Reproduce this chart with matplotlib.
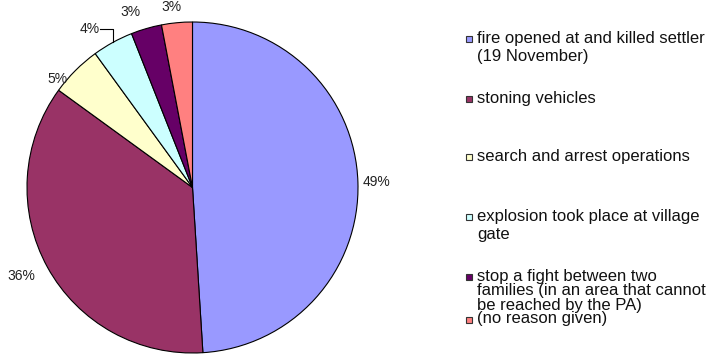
import numpy as np
import matplotlib
matplotlib.use('Agg')
import matplotlib.pyplot as plt
from matplotlib.patches import Rectangle

plt.rcParams['font.family'] = ['Liberation Sans', 'DejaVu Sans']

# Reasons given, share of cases (%)
reasons = [
    'fire opened at and killed settler\n(19 November)',
    'stoning vehicles',
    'search and arrest operations',
    'explosion took place at village\ngate',
    'stop a fight between two\nfamilies (in an area that cannot\nbe reached by the PA)',
    '(no reason given)',
]
shares = [49, 36, 5, 4, 3, 3]
colors = ['#9999FF', '#993366', '#FFFFCC', '#CCFFFF', '#660066', '#FF8080']

# label offsets from the wedge edge, in pixels
label_offsets = [(19, 0), (-26, -9), (-18, -9), (-23, 13), (-16, 17), (-5, 16)]
legend_y = [39, 99, 157, 217, 277, 320]
legend_spacing = [1.25, 1.25, 1.25, 1.25, 0.98, 1.25]

W, H = 713, 360
fig = plt.figure(figsize=(W / 100, H / 100), dpi=100)
cx, cy, r = 192.5, 187.5, 165.5
ax = fig.add_axes([(cx - r) / W, (H - cy - r) / H, 2 * r / W, 2 * r / H])

wedges, _ = ax.pie(shares, colors=colors, startangle=90, counterclock=False,
                   wedgeprops=dict(edgecolor='black', linewidth=0.8))
ax.set_xlim(-1, 1)
ax.set_ylim(-1, 1)

# percentage labels outside the pie
for w, val, (dx, dy) in zip(wedges, shares, label_offsets):
    ang = np.deg2rad((w.theta1 + w.theta2) / 2)
    ex, ey = np.cos(ang), np.sin(ang)
    ax.annotate(f'{val}%', xy=(ex, ey), xytext=(dx, dy), textcoords='offset pixels',
                ha='center', va='center', fontsize=10, color='#222222',
                annotation_clip=False)
    if val == 4:
        # leader line for the small slice
        ly = ey + dy / r
        ax.plot([ex - 13 / r, ex, ex], [ly, ly, ey],
                color='black', lw=0.8, clip_on=False)

# legend drawn as boxes and text on the right
for y, col, lab, ls in zip(legend_y, colors, reasons, legend_spacing):
    fig.patches.append(Rectangle((466 / W, (H - y - 3) / H), 6 / W, 6 / H,
                                 transform=fig.transFigure, facecolor=col,
                                 edgecolor='#333333', linewidth=0.8))
    fig.text(477 / W, (H - y + 8.5) / H, lab, ha='left', va='top', fontsize=12,
             linespacing=ls, color='#111111', transform=fig.transFigure)

fig.savefig('out.png', dpi=100)
